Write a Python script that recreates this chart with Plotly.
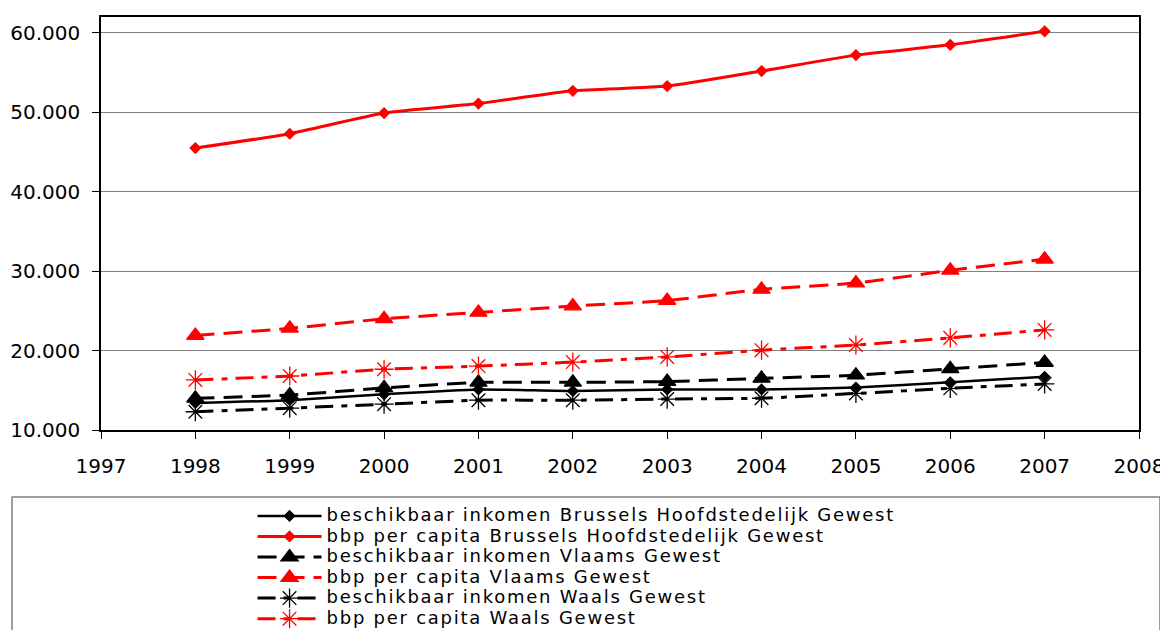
import plotly.graph_objects as go

years = [1998, 1999, 2000, 2001, 2002, 2003, 2004, 2005, 2006, 2007]

inkomen_brussel = [13400, 13750, 14500, 15100, 14900, 15100, 15100, 15350, 16000, 16700]
bbp_brussel = [45500, 47300, 49900, 51100, 52700, 53300, 55200, 57200, 58500, 60200]
inkomen_vlaams = [14000, 14400, 15300, 16000, 16000, 16100, 16500, 16900, 17700, 18500]
bbp_vlaams = [21900, 22800, 24000, 24800, 25600, 26300, 27700, 28500, 30100, 31500]
inkomen_waals = [12300, 12750, 13250, 13750, 13750, 13900, 14000, 14600, 15250, 15800]
bbp_waals = [16300, 16800, 17650, 18050, 18550, 19200, 20050, 20700, 21600, 22600]

names = [
    "beschikbaar inkomen Brussels Hoofdstedelijk Gewest",
    "bbp per capita Brussels Hoofdstedelijk Gewest",
    "beschikbaar inkomen Vlaams Gewest",
    "bbp per capita Vlaams Gewest",
    "beschikbaar inkomen Waals Gewest",
    "bbp per capita Waals Gewest",
]

x_ticks = list(range(1997, 2009))
y_ticks = [10000, 20000, 30000, 40000, 50000, 60000]

FONT = "DejaVu Sans"
RED = "#ff0000"
BLACK = "#000000"
dashdot = "18px,8px,6px,8px"
longdash = "19px,9px"

series = [
    (inkomen_brussel, BLACK, "solid", "diamond", 8, 2.5),
    (bbp_brussel, RED, "solid", "diamond", 8, 3),
    (inkomen_vlaams, BLACK, longdash, "triangle-up", 15, 3),
    (bbp_vlaams, RED, longdash, "triangle-up", 15, 3),
    (inkomen_waals, BLACK, dashdot, "asterisk-open", 16, 3),
    (bbp_waals, RED, dashdot, "asterisk-open", 16, 3),
]

LEG_STYLE = "font-size:18px;letter-spacing:1.75px"

fig = go.Figure()
for (vals, col, dash, sym, msize, lw), nm in zip(series, names):
    fig.add_trace(go.Scatter(
        x=years, y=vals, name=f'<span style="{LEG_STYLE}">{nm}</span>',
        mode="lines+markers",
        line=dict(color=col, width=lw, dash=dash, shape="spline", smoothing=0.5),
        marker=dict(symbol=sym, size=msize, color=col,
                    line=dict(color=col, width=1.3)),
    ))

# page body has an 8px margin: figure is sized so the plot lands where the reference has it
fig.update_layout(
    width=1160, height=622,
    margin=dict(l=93, r=29, t=9, b=200, autoexpand=False),
    paper_bgcolor="white", plot_bgcolor="white",
    separators=",.",
    font=dict(family=FONT, color="black", size=20),
    showlegend=True,
    legend=dict(
        x=0.146, y=-0.171, xanchor="left", yanchor="top",
        bgcolor="rgba(0,0,0,0)", borderwidth=0,
        font=dict(family=FONT, size=13.5, color="black"),
        tracegroupgap=0, itemwidth=64,
    ),
    xaxis=dict(
        range=[1997, 2008], tickvals=x_ticks, ticktext=[str(v) for v in x_ticks],
        showgrid=False, zeroline=False,
        showline=True, linecolor="black", linewidth=1.5, mirror=True,
        ticks="outside", ticklen=7, tickcolor="black", tickwidth=1,
        ticklabelstandoff=10,
        tickfont=dict(family=FONT, size=20),
    ),
    yaxis=dict(
        range=[10000, 62000], tickvals=y_ticks, tickformat=",.0f",
        showgrid=True, gridcolor="#808080", gridwidth=1, zeroline=False,
        showline=True, linecolor="black", linewidth=1.5, mirror=True,
        ticks="outside", ticklen=7, tickcolor="black", tickwidth=1,
        ticklabelstandoff=8,
        tickfont=dict(family=FONT, size=20),
    ),
    shapes=[dict(
        type="rect", xref="paper", yref="paper",
        x0=-0.0857, x1=1.0202, y0=-0.5, y1=-0.162,
        line=dict(color="#808080", width=1.5), fillcolor="rgba(0,0,0,0)",
    )],
)

fig.write_html("out.html")
